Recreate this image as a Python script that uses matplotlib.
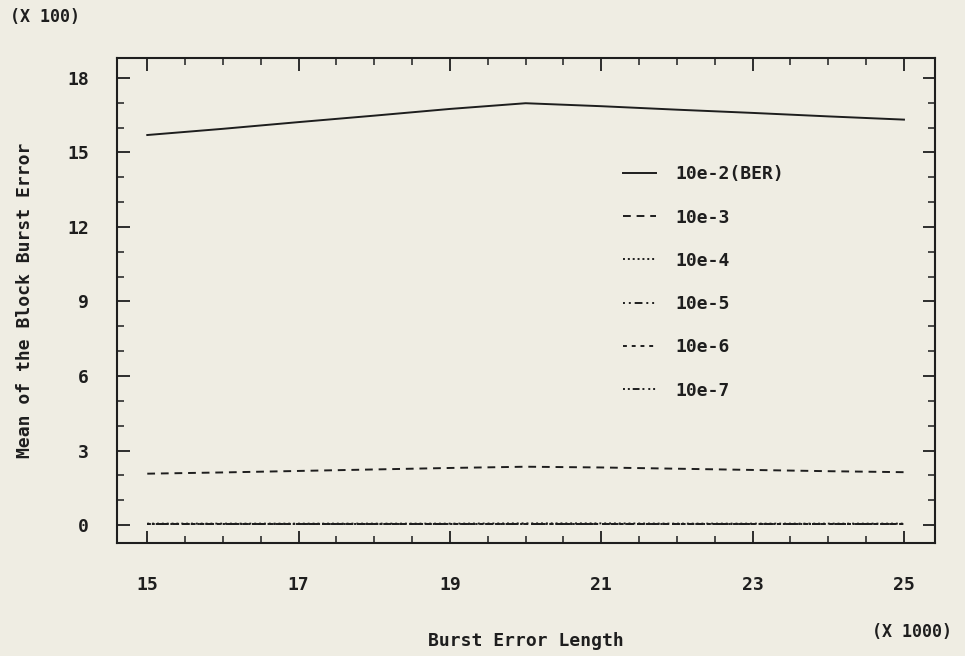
import matplotlib
matplotlib.use("Agg")
import matplotlib.pyplot as plt
from matplotlib.ticker import MultipleLocator, FixedLocator

# Data (x in units of 1000, y in units of 100)
burst_len = [15, 16, 17, 18, 19, 20, 21, 22, 23, 24, 25]
ber_2 = [15.70, 15.95, 16.22, 16.48, 16.75, 16.98, 16.86, 16.72, 16.59, 16.45, 16.32]
ber_3 = [2.07, 2.12, 2.18, 2.24, 2.30, 2.35, 2.32, 2.27, 2.22, 2.17, 2.13]
ber_4 = [0.06, 0.06, 0.06, 0.06, 0.06, 0.07, 0.07, 0.06, 0.06, 0.06, 0.06]
ber_5 = [0.05, 0.05, 0.05, 0.05, 0.05, 0.05, 0.05, 0.05, 0.05, 0.05, 0.05]
ber_6 = [0.04, 0.04, 0.04, 0.04, 0.04, 0.04, 0.04, 0.04, 0.04, 0.04, 0.04]
ber_7 = [0.03, 0.03, 0.03, 0.03, 0.03, 0.03, 0.03, 0.03, 0.03, 0.03, 0.03]
labels = ["10e-2(BER)", "10e-3", "10e-4", "10e-5", "10e-6", "10e-7"]
x_ticks = [15, 17, 19, 21, 23, 25]
y_ticks = [0, 3, 6, 9, 12, 15, 18]

bg = "#efede3"
ink = "#1e1e1e"
plt.rcParams['font.family'] = ['DejaVu Sans Mono', 'DejaVu Sans']
plt.rcParams['font.weight'] = 'bold'
FS = 13

fig = plt.figure(figsize=(9.65, 6.56), dpi=100, facecolor=bg)
ax = fig.add_axes([117/965, 1-543/656, (935-117)/965, (543-58)/656])
ax.set_facecolor(bg)

styles = [
    dict(linestyle='-'),
    dict(linestyle=(0, (4, 3))),
    dict(linestyle=(0, (1, 1.5))),
    dict(linestyle=(0, (1, 2, 1, 2, 4, 2))),
    dict(linestyle=(0, (2, 2.5))),
    dict(linestyle=(0, (1, 1.5, 1, 1.5, 3.5, 1.5, 1, 2))),
]
series = [ber_2, ber_3, ber_4, ber_5, ber_6, ber_7]
for s, lab, st in zip(series, labels, styles):
    ax.plot(burst_len, s, color=ink, linewidth=1.4, label=lab, **st)

ax.set_xlim(14.60, 25.41)
ax.set_ylim(-0.72, 18.8)
ax.xaxis.set_major_locator(FixedLocator(x_ticks))
ax.xaxis.set_minor_locator(MultipleLocator(0.5))
ax.yaxis.set_major_locator(FixedLocator(y_ticks))
ax.yaxis.set_minor_locator(MultipleLocator(1))
ax.tick_params(which='both', direction='in', top=True, right=True, color=ink)
ax.tick_params(which='major', length=9, width=1.3)
ax.tick_params(which='minor', length=5, width=1.1)
ax.tick_params(axis='x', which='major', pad=24, labelsize=FS, labelcolor=ink)
ax.tick_params(axis='y', which='major', pad=20, labelsize=FS, labelcolor=ink)
for lab in ax.get_xticklabels() + ax.get_yticklabels():
    lab.set_fontweight('bold')
for sp in ax.spines.values():
    sp.set_color(ink)
    sp.set_linewidth(1.5)

ax.set_xlabel("Burst Error Length", fontsize=FS, fontweight='bold', color=ink, labelpad=27)
ax.set_ylabel("Mean of the Block Burst Error", fontsize=FS, fontweight='bold', color=ink, labelpad=24)

fig.text(10/965, 1-17/656, "(X 100)", fontsize=12, fontweight='bold', color=ink, va='center', ha='left')
fig.text(952/965, 1-632/656, "(X 1000)", fontsize=12, fontweight='bold', color=ink, va='center', ha='right')

leg = ax.legend(loc='upper left', bbox_to_anchor=(607/965, 1-149/656), bbox_transform=fig.transFigure,
                frameon=False, handlelength=1.8, handletextpad=1.1, labelspacing=1.4,
                prop={'size': FS, 'weight': 'bold', 'family': ['DejaVu Sans Mono']})
for t in leg.get_texts():
    t.set_color(ink)

fig.savefig("out.png", dpi=100, facecolor=bg)
